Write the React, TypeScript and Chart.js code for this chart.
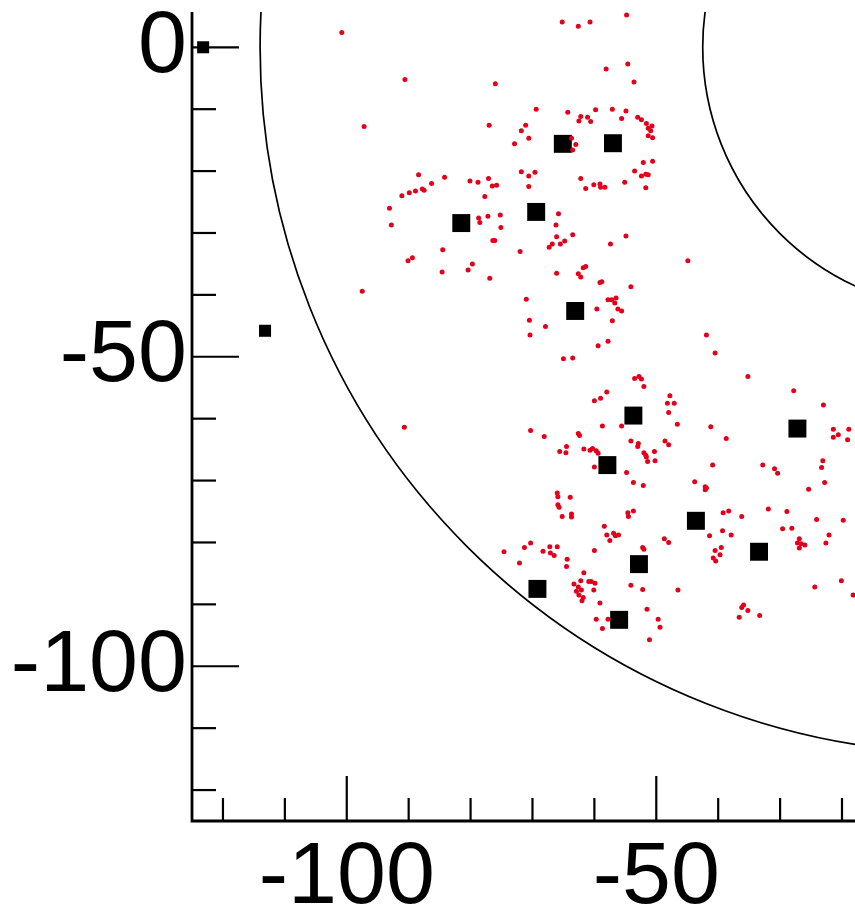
import { useEffect, useRef } from 'react';
import { Chart, registerables } from 'chart.js';

Chart.register(...registerables);

// Concentric reference rings centred on the origin (radius in axis units)
const ringRadii = [42.5, 114];

// Labelled tick values on each axis
const xTickLabels = [-100, -50];
const yTickLabels = [-100, -50, 0];

// Large square markers
const primarySites: [number, number][] = [
  [-65.1, -15.6], [-57.0, -15.5], [-81.5, -28.4], [-69.4, -26.6], [-63.1, -42.6],
  [-53.7, -59.5], [-57.9, -67.5], [-27.2, -61.6], [-43.6, -76.5], [-33.4, -81.5],
  [-52.8, -83.5], [-69.2, -87.5], [-56.0, -92.5],
];

// Small square markers
const secondarySites: [number, number][] = [
  [-123.2, 0], [-113.2, -45.8],
];

// Red scatter points
const scatterPoints: [number, number][] = [
  [-100.8, 2.4], [-90.6, -5.2], [-76.0, -5.9], [-97.2, -12.8], [-77.0, -12.6],
  [-71.1, -12.6], [-71.8, -13.5], [-70.6, -14.7], [-72.9, -15.6], [-71.8, -20.1],
  [-70.6, -20.8], [-88.4, -20.6], [-84.2, -21.0], [-86.3, -22.0], [-80.1, -21.6],
  [-78.8, -21.8], [-77.1, -21.2], [-76.5, -22.4], [-75.8, -22.3], [-91.1, -24.0],
  [-89.9, -23.5], [-88.9, -23.2], [-87.8, -22.9], [-87.5, -23.1], [-77.7, -24.1],
  [-70.6, -22.5], [-65.2, 4.1], [-62.6, 3.4], [-60.7, 4.1], [-54.8, 5.2],
  [-58.1, -3.5], [-54.6, -2.7], [-53.6, -5.6], [-69.4, -10.0], [-64.3, -10.5],
  [-59.8, -10.1], [-57.1, -10.0], [-54.9, -10.3], [-62.2, -11.2], [-62.5, -11.9],
  [-61.1, -11.3], [-60.6, -12.0], [-55.6, -11.5], [-53.0, -11.3], [-52.4, -11.7],
  [-51.6, -12.3], [-50.7, -12.7], [-51.3, -13.1], [-50.9, -13.5], [-51.3, -14.3],
  [-50.6, -14.6], [-63.7, -14.7], [-63.0, -15.7], [-63.5, -16.6], [-52.1, -18.6],
  [-50.6, -18.4], [-53.5, -20.0], [-52.4, -20.8], [-51.7, -20.5], [-51.3, -20.6],
  [-69.6, -20.2], [-62.2, -21.2], [-60.1, -22.2], [-59.1, -22.1], [-59.0, -22.6],
  [-58.3, -22.6], [-61.4, -22.8], [-55.1, -21.8], [-51.7, -22.7], [-93.1, -26.0],
  [-92.8, -28.7], [-78.7, -27.6], [-78.5, -28.3], [-77.2, -27.3], [-75.2, -27.1],
  [-75.1, -29.1], [-76.4, -31.2], [-76.1, -31.2], [-84.5, -32.7], [-72.0, -33.0],
  [-90.1, -34.5], [-89.4, -34.0], [-84.6, -36.3], [-79.7, -35.0], [-80.4, -36.0],
  [-76.9, -37.3], [-97.5, -39.4], [-71.0, -40.7], [-70.5, -44.1], [-70.4, -46.5],
  [-65.8, -26.9], [-66.2, -28.7], [-66.1, -30.6], [-63.5, -30.3], [-64.8, -31.3],
  [-65.5, -31.8], [-66.8, -31.8], [-67.3, -32.3], [-57.4, -31.8], [-54.9, -30.5],
  [-44.9, -34.5], [-66.1, -36.5], [-61.8, -35.6], [-61.4, -35.4], [-62.6, -36.6],
  [-62.2, -37.1], [-59.1, -38.0], [-58.8, -37.9], [-54.1, -38.7], [-57.8, -40.8],
  [-57.2, -40.8], [-56.5, -40.5], [-56.7, -41.3], [-56.2, -42.3], [-55.6, -42.6],
  [-59.6, -42.3], [-57.1, -44.2], [-67.9, -45.1], [-57.8, -47.5], [-59.4, -48.2],
  [-65.0, -50.3], [-63.5, -50.2], [-41.9, -46.5], [-40.5, -49.4], [-53.5, -53.5],
  [-52.8, -53.2], [-52.4, -53.6], [-52.0, -54.8], [-58.0, -55.7], [-59.0, -56.7],
  [-60.0, -57.1], [-47.8, -56.3], [-48.2, -57.5], [-47.1, -57.5], [-48.0, -59.0],
  [-46.6, -60.9], [-70.3, -61.9], [-68.1, -62.9], [-62.6, -62.4], [-62.4, -62.7],
  [-58.7, -61.2], [-55.6, -61.2], [-64.5, -64.5], [-65.6, -65.3], [-64.6, -65.5],
  [-61.7, -64.9], [-60.7, -65.1], [-60.3, -64.8], [-59.7, -65.2], [-59.4, -65.6],
  [-60.0, -67.8], [-54.1, -63.6], [-52.9, -64.0], [-53.0, -64.5], [-48.6, -63.6],
  [-48.0, -64.2], [-52.0, -65.5], [-51.7, -65.9], [-51.6, -66.2], [-50.3, -65.3],
  [-51.4, -66.9], [-50.2, -66.8], [-54.8, -68.7], [-53.7, -70.3], [-52.1, -70.8],
  [-66.0, -72.0], [-65.9, -72.6], [-63.9, -72.7], [-65.9, -73.9], [-65.7, -74.3],
  [-65.2, -75.8], [-63.7, -75.4], [-63.7, -75.9], [-54.6, -75.2], [-53.7, -74.9],
  [-54.5, -75.8], [-35.2, -53.2], [-27.8, -55.5], [-23.0, -57.8], [-41.2, -61.3],
  [-38.7, -63.2], [-21.4, -61.7], [-20.6, -62.6], [-21.4, -63.0], [-18.9, -61.7],
  [-19.1, -63.4], [-40.9, -67.5], [-32.8, -67.5], [-30.9, -68.1], [-30.4, -68.8],
  [-23.1, -66.8], [-23.3, -67.9], [-22.8, -70.3], [-25.4, -71.4], [-43.8, -70.2],
  [-42.1, -71.0], [-41.9, -71.2], [-42.1, -71.5], [-39.2, -75.2], [-38.3, -74.9],
  [-36.2, -75.8], [-31.9, -74.6], [-28.9, -75.0], [-24.1, -76.3], [-19.8, -76.4],
  [-58.4, -77.4], [-58.0, -78.8], [-57.5, -79.7], [-56.9, -78.5], [-56.6, -78.9],
  [-56.1, -78.8], [-48.7, -79.4], [-48.0, -80.0], [-74.6, -81.5], [-71.3, -80.8],
  [-70.3, -80.1], [-68.3, -81.4], [-67.2, -80.7], [-66.0, -80.7], [-67.1, -81.7],
  [-66.5, -82.1], [-64.4, -82.7], [-64.5, -83.9], [-72.1, -83.3], [-60.0, -81.3],
  [-52.2, -80.8], [-52.0, -81.1], [-61.7, -84.9], [-62.2, -86.2], [-63.3, -86.7],
  [-62.6, -87.2], [-62.9, -87.9], [-62.1, -87.7], [-62.5, -88.5], [-61.8, -88.9],
  [-62.0, -89.4], [-60.5, -86.3], [-59.9, -86.6], [-60.1, -87.7], [-60.9, -86.3],
  [-59.1, -89.8], [-54.1, -86.9], [-52.2, -87.6], [-46.5, -87.7], [-51.5, -90.8],
  [-49.7, -92.4], [-49.4, -93.7], [-59.7, -92.4], [-57.8, -92.4], [-58.7, -93.9],
  [-51.1, -95.7], [-39.3, -78.1], [-41.4, -78.9], [-37.9, -78.8], [-29.6, -77.8],
  [-28.1, -77.7], [-26.9, -79.4], [-27.2, -80.1], [-26.6, -80.2], [-26.0, -80.4],
  [-26.9, -80.9], [-22.1, -78.8], [-22.6, -80.1], [-40.5, -81.3], [-39.5, -80.8],
  [-39.7, -82.0], [-40.8, -82.5], [-40.4, -83.0], [-24.4, -87.2], [-20.1, -86.2],
  [-18.2, -88.5], [-35.9, -90.1], [-36.2, -90.5], [-35.2, -91.0], [-36.6, -92.1],
  [-33.3, -91.8], [-90.7, -61.4],
];

const toXY = (pts: [number, number][]) => pts.map(([x, y]) => ({ x, y }));

const labelFont = { family: "'Liberation Sans', Arial, sans-serif", size: 88, lineHeight: 1 };

// Draws the rings under the markers, then the L-shaped frame with inward ticks
const framePlugin = {
  id: 'frameAndRings',
  beforeDatasetsDraw(chart: any) {
    const { ctx, chartArea: a, scales } = chart;
    const xs = scales.x;
    const ys = scales.y;
    ctx.save();
    ctx.beginPath();
    ctx.rect(a.left, a.top, a.right - a.left, a.bottom - a.top);
    ctx.clip();
    const cx = xs.getPixelForValue(0);
    const cy = ys.getPixelForValue(0);
    ctx.strokeStyle = '#000';
    ctx.lineWidth = 1.7;
    for (const r of ringRadii) {
      const rp = Math.abs(xs.getPixelForValue(r) - cx);
      ctx.beginPath();
      ctx.arc(cx, cy, rp, 0, Math.PI * 2);
      ctx.stroke();
    }
    ctx.restore();
  },
  afterDatasetsDraw(chart: any) {
    const { ctx, chartArea: a, scales } = chart;
    const xs = scales.x;
    const ys = scales.y;
    ctx.save();
    ctx.strokeStyle = '#000';
    ctx.lineCap = 'butt';
    ctx.lineWidth = 2.2;
    for (const t of ys.ticks) {
      const py = ys.getPixelForValue(t.value);
      const len = t.value % 50 === 0 ? 47 : 24;
      ctx.beginPath();
      ctx.moveTo(a.left, py);
      ctx.lineTo(a.left + len, py);
      ctx.stroke();
    }
    for (const t of xs.ticks) {
      const px = xs.getPixelForValue(t.value);
      const len = t.value % 50 === 0 ? 45 : 23;
      ctx.beginPath();
      ctx.moveTo(px, a.bottom);
      ctx.lineTo(px, a.bottom - len);
      ctx.stroke();
    }
    ctx.lineWidth = 2.8;
    ctx.lineJoin = 'miter';
    ctx.beginPath();
    ctx.moveTo(a.left, a.top);
    ctx.lineTo(a.left, a.bottom);
    ctx.lineTo(a.right, a.bottom);
    ctx.stroke();
    ctx.restore();
  },
};

export default function App() {
  const canvasRef = useRef<HTMLCanvasElement | null>(null);

  useEffect(() => {
    const canvas = canvasRef.current;
    if (!canvas) return;
    const chart = new Chart(canvas, {
      type: 'scatter',
      data: {
        datasets: [
          {
            data: toXY(scatterPoints),
            pointStyle: 'circle',
            pointRadius: 2.5,
            pointHoverRadius: 2.5,
            backgroundColor: '#e3001b',
            borderWidth: 0,
            order: 0,
          },
          {
            data: toXY(primarySites),
            pointStyle: 'rect',
            pointRadius: 12.7,
            pointHoverRadius: 12.7,
            backgroundColor: '#000',
            borderWidth: 0,
            order: 1,
          },
          {
            data: toXY(secondarySites),
            pointStyle: 'rect',
            pointRadius: 8.5,
            pointHoverRadius: 8.5,
            backgroundColor: '#000',
            borderWidth: 0,
            order: 2,
          },
        ],
      },
      options: {
        animation: false,
        responsive: false,
        devicePixelRatio: 1,
        events: [],
        layout: { autoPadding: false, padding: { top: 12, left: 0, right: 0, bottom: 0 } },
        plugins: {
          legend: { display: false },
          tooltip: { enabled: false },
        },
        scales: {
          x: {
            type: 'linear',
            min: -125,
            max: -17.9,
            grid: { display: false, drawTicks: false },
            border: { display: false },
            ticks: {
              stepSize: 10,
              autoSkip: false,
              maxRotation: 0,
              minRotation: 0,
              includeBounds: false,
              padding: 14,
              color: '#000',
              font: labelFont,
              callback: (v: any) => (xTickLabels.includes(Number(v)) ? String(v) : ''),
            },
            afterFit: (s: any) => {
              s.height = 94;
              s.paddingLeft = 0;
              s.paddingRight = 0;
            },
          },
          y: {
            type: 'linear',
            min: -125,
            max: 5.7,
            grid: { display: false, drawTicks: false },
            border: { display: false },
            ticks: {
              stepSize: 10,
              autoSkip: false,
              includeBounds: false,
              padding: 5,
              color: '#000',
              font: labelFont,
              callback: (v: any) => (yTickLabels.includes(Number(v)) ? String(v) : ''),
            },
            afterFit: (s: any) => {
              s.width = 192;
              s.paddingTop = 0;
              s.paddingBottom = 0;
            },
          },
        },
      },
      plugins: [framePlugin],
    } as any);
    return () => chart.destroy();
  }, []);

  return (
    <div style={{ position: 'absolute', left: 0, top: 0, width: 855, height: 915, background: '#fff' }}>
      <canvas ref={canvasRef} width={855} height={915} style={{ display: 'block' }} />
    </div>
  );
}
